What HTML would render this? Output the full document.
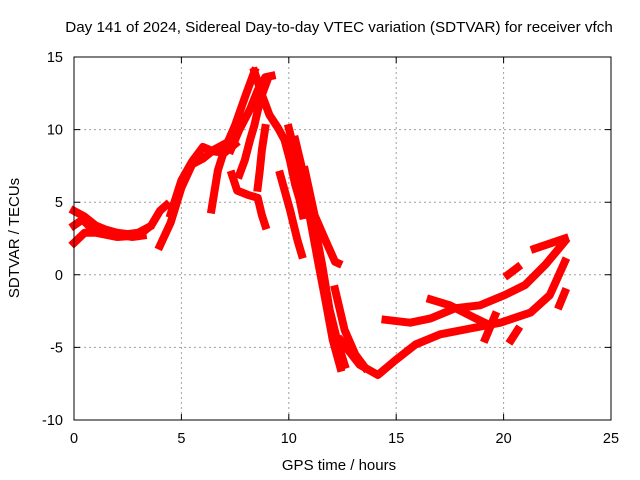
<!DOCTYPE html>
<html><head><meta charset="utf-8"><style>
body{margin:0;background:#fff;}
svg{display:block;font-family:"Liberation Sans",sans-serif;}
</style></head><body>
<svg id="chart" width="640" height="480">
<text x="339" y="32" font-size="15.2" text-anchor="middle">Day 141 of 2024, Sidereal Day-to-day VTEC variation (SDTVAR) for receiver vfch</text>
<text x="339" y="470" font-size="15" text-anchor="middle">GPS time / hours</text>
<text transform="translate(19,238) rotate(-90)" font-size="15" text-anchor="middle">SDTVAR / TECUs</text>
<g id="grid"></g><g id="ticks"></g><g id="series"></g>
<rect x="74" y="57" width="537" height="363" fill="none" stroke="#000" stroke-width="1"/>
</svg>
<script>
const xTicks=[0,5,10,15,20,25];
const yTicks=[15,10,5,0,-5,-10];
const seriesHours=[
[0,0.5,1,1.5,2,2.5,3,3.5],
[0,0.5,1,2,3,3.6,4,4.3],
[0,0.4,0.8,1.3,2,2.7,3.2],
[4,4.5,5,5.5,6,6.5,7],
[4.5,5,5.5,6,6.5,7,7.5],
[6.4,6.7,7.0,7.5,8.0,8.4],
[8.4,8.75,9.1,9.5,9.8,10.05,10.3,10.5,10.65],
[7.3,7.7,8.2,8.55,8.9,9.2],
[9,8.75,8.55,8.4,8.2,7.95,7.7],
[8.9,8.75,8.65,8.55],
[7.35,7.6,8.1,8.55,8.75,8.9],
[10,10.5,11,11.35,11.7,12.05,12.4],
[10.3,10.75,11.2,11.55,11.9,12.3,12.6],
[10.75,11.2,11.7,12.15,12.3],
[9.6,10.05,10.4,10.6],
[12.15,12.6,13.1,13.55],
[12.4,13.3,14.15,14.95,15.9,17.05,18.45,19.85,21.25,22.15,22.85],
[14.5,15.65,16.6,17.75,18.9,20.05,21,21.95,22.85],
[16.6,17.5,18.7,19.4],
[21.45,22.05,22.85],
[20.2,20.65],
[20.35,20.65],
[22.6,22.85],
[19.15,19.6]
];
const seriesValues=[
[4.4,4,3.4,3.1,2.9,2.8,2.9,3.3],
[2.2,2.9,2.9,2.6,2.7,3.4,4.4,4.8],
[3.4,3.8,3.2,3.0,2.8,2.6,2.7],
[2,3.6,6,7.6,8,8.6,9],
[4.2,6.5,7.8,8.8,8.5,8.4,9],
[4.5,7.2,8.6,10.3,12.4,14],
[14,12.4,11,10.1,9.3,7.9,6.2,5.2,4.1],
[8.6,10,11.4,12.7,13.6,13.7],
[13.4,12.4,11.3,10.3,9.3,7.9,6.9],
[10.1,8.6,7.2,6],
[6.9,5.8,5.5,5.3,4.1,3.4],
[10.1,7.2,3.8,1,-1.7,-4.5,-6.4],
[9.3,6.5,3.4,0.7,-2.4,-4.8,-6.2],
[7.2,4.1,2.4,0.9,0.8],
[6.9,4.5,2.4,1.4],
[-1,-3.8,-5.5,-6.4],
[-4.5,-6.2,-6.9,-5.9,-4.8,-4.1,-3.7,-3.3,-2.6,-1.4,0.9],
[-3.1,-3.3,-3,-2.3,-2.1,-1.4,-0.7,0.7,2.3],
[-1.7,-2.1,-3,-3.5],
[1.8,2.1,2.5],
[0,0.5],
[-4.5,-3.8],
[-2.1,-1.2],
[-4.4,-2.8]
];
const NS="http://www.w3.org/2000/svg";
const X0=74,X1=611,Y0=420,Y1=57;
function sx(h){return X0+(h-0)/(25-0)*(X1-X0);}
function sy(v){return Y0-(v+10)/(15+10)*(Y0-Y1);}
const grid=document.getElementById('grid'),ticks=document.getElementById('ticks'),ser=document.getElementById('series');
xTicks.forEach(t=>{
 const x=sx(t);
 if(t>0&&t<25){const l=document.createElementNS(NS,'line');l.setAttribute('x1',x);l.setAttribute('x2',x);l.setAttribute('y1',Y1);l.setAttribute('y2',Y0);l.setAttribute('stroke','#a0a0a0');l.setAttribute('stroke-dasharray','2,3');
 
 
 grid.appendChild(l);}
 const tk=document.createElementNS(NS,'path');tk.setAttribute('d',`M${x},${Y0}v-6M${x},${Y1}v6`);tk.setAttribute('stroke','#000');
 
 
 ticks.appendChild(tk);
 const tx=document.createElementNS(NS,'text');tx.setAttribute('x',x);tx.setAttribute('y',443);tx.setAttribute('font-size','14.5');tx.setAttribute('text-anchor','middle');tx.textContent=t;
 
 
 ticks.appendChild(tx);
});
yTicks.forEach(t=>{
 const y=sy(t);
 if(t>-10&&t<15){const l=document.createElementNS(NS,'line');l.setAttribute('x1',X0);l.setAttribute('x2',X1);l.setAttribute('y1',y);l.setAttribute('y2',y);l.setAttribute('stroke','#a0a0a0');l.setAttribute('stroke-dasharray','2,3');
 
 
 grid.appendChild(l);}
 const tk=document.createElementNS(NS,'path');tk.setAttribute('d',`M${X0},${y}h6M${X1},${y}h-6`);tk.setAttribute('stroke','#000');
 
 
 ticks.appendChild(tk);
 const tx=document.createElementNS(NS,'text');tx.setAttribute('x',63);tx.setAttribute('y',y+5);tx.setAttribute('font-size','14.5');tx.setAttribute('text-anchor','end');tx.textContent=t;
 
 
 ticks.appendChild(tx);
});
seriesHours.forEach((hs,i)=>{
 const vs=seriesValues[i];
 const pts=hs.map((h,j)=>sx(h).toFixed(1)+','+sy(vs[j]).toFixed(1)).join(' ');
 const p=document.createElementNS(NS,'polyline');
 p.setAttribute('points',pts);p.setAttribute('fill','none');p.setAttribute('stroke','#ff0000');p.setAttribute('stroke-width','8');p.setAttribute('stroke-linejoin','round');p.setAttribute('stroke-linecap','square');
 
 
 ser.appendChild(p);
});
</script>
</body></html>
